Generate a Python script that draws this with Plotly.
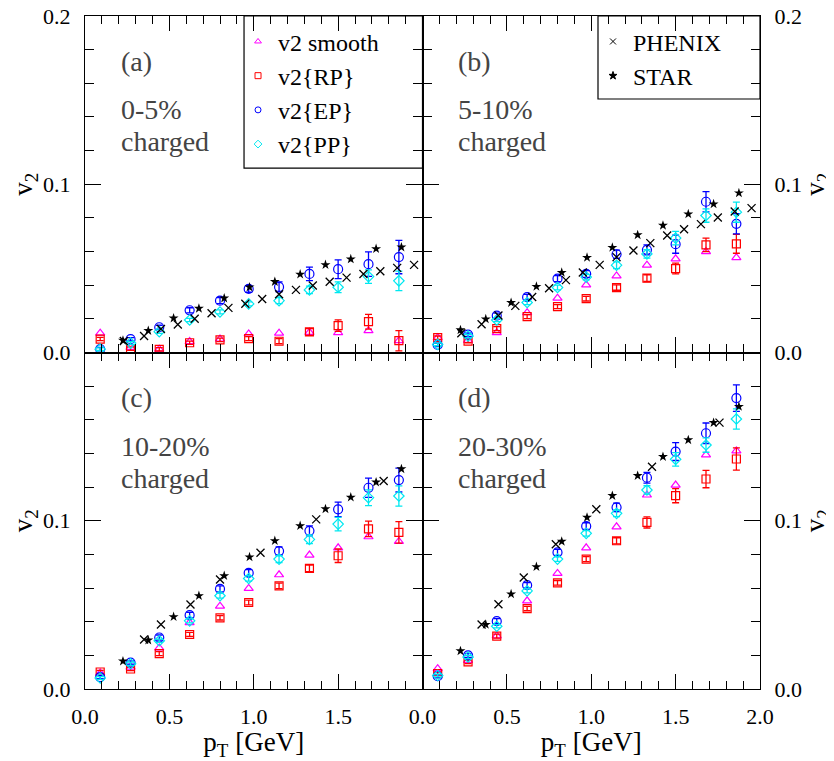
import plotly.graph_objects as go

# ---------------- data ----------------
PT = [0.09, 0.27, 0.44, 0.62, 0.80, 0.97, 1.15, 1.33, 1.50, 1.68, 1.86]
PHENIX_PT_AB = [0.23, 0.35, 0.45, 0.55, 0.65, 0.75, 0.85, 0.95, 1.05, 1.15,
                1.25, 1.35, 1.45, 1.55, 1.65, 1.75, 1.85, 1.95]
PHENIX_PT_C = [0.35, 0.45, 0.625, 0.80, 1.04, 1.37, 1.77]
PHENIX_PT_D = [0.35, 0.45, 0.60, 0.79, 1.03, 1.36, 1.76]
STAR_PT = [0.225, 0.375, 0.525, 0.675, 0.825, 0.975, 1.125, 1.275, 1.425,
           1.575, 1.725, 1.875]

# panel (a) 0-5%
a_smooth = [0.0115, 0.003, 0.002, 0.0065, 0.008, 0.011, 0.0115, 0.012, 0.0118, 0.013, 0.007]
a_rp = [0.008, 0.0023, 0.0019, 0.0058, 0.0075, 0.0082, 0.0067, 0.0122, 0.016, 0.0183, 0.007]
a_rp_err = [0.001, 0.001, 0.001, 0.001, 0.001, 0.0012, 0.0015, 0.002, 0.0034, 0.0044, 0.006]
a_ep = [0.002, 0.0079, 0.015, 0.0251, 0.0308, 0.0378, 0.039, 0.0467, 0.0495, 0.0525, 0.0567]
a_ep_err = [0.001, 0.001, 0.0012, 0.0015, 0.0018, 0.002, 0.003, 0.004, 0.0056, 0.0073, 0.0099]
a_pp = [0.002, 0.0056, 0.0124, 0.0193, 0.0241, 0.0289, 0.0308, 0.0372, 0.0388, 0.0451, 0.0426]
a_pp_err = [0.0008, 0.0008, 0.001, 0.001, 0.0012, 0.0012, 0.0018, 0.0022, 0.0032, 0.004, 0.0058]
a_phenix = [0.0068, 0.0098, 0.014, 0.0166, 0.0201, 0.0233, 0.0265, 0.029, 0.0318, 0.0346,
            0.0372, 0.0398, 0.042, 0.0445, 0.0467, 0.0483, 0.0503, 0.0521]
a_star = [0.0072, 0.013, 0.0204, 0.0262, 0.0323, 0.0388, 0.0421, 0.0465, 0.0521, 0.0555, 0.0616, 0.0626]

# panel (b) 5-10%
b_smooth = [0.0088, 0.0072, 0.0118, 0.0237, 0.0323, 0.0402, 0.0455, 0.0519, 0.0557, 0.06, 0.0564]
b_rp = [0.0088, 0.0068, 0.0142, 0.0213, 0.0273, 0.032, 0.0386, 0.0442, 0.0499, 0.064, 0.0646]
b_rp_err = [0.001, 0.001, 0.0012, 0.0012, 0.0012, 0.0014, 0.0016, 0.002, 0.0032, 0.004, 0.0056]
b_ep = [0.0045, 0.0106, 0.0219, 0.0329, 0.0439, 0.0467, 0.0584, 0.061, 0.0644, 0.0896, 0.0765]
b_ep_err = [0.001, 0.001, 0.0015, 0.0016, 0.0018, 0.002, 0.0025, 0.003, 0.0054, 0.006, 0.006]
b_pp = [0.0048, 0.0098, 0.0193, 0.0297, 0.0386, 0.0448, 0.0519, 0.0586, 0.068, 0.0814, 0.0834]
b_pp_err = [0.0008, 0.001, 0.001, 0.0012, 0.0014, 0.0016, 0.002, 0.0025, 0.004, 0.004, 0.006]
b_phenix = [0.0114, 0.0168, 0.022, 0.0277, 0.033, 0.0382, 0.043, 0.0475, 0.0521, 0.0567,
            0.0606, 0.065, 0.0695, 0.0733, 0.0763, 0.0802, 0.0838, 0.0858]
b_star = [0.0134, 0.0199, 0.0296, 0.0392, 0.0475, 0.0564, 0.0624, 0.0699, 0.0755, 0.0823, 0.0882, 0.0948]

# panel (c) 10-20%
c_smooth = [0.0095, 0.013, 0.0244, 0.0395, 0.0492, 0.0598, 0.0679, 0.0796, 0.0839, 0.0905, 0.0877]
c_rp = [0.0101, 0.0119, 0.021, 0.0324, 0.0423, 0.0514, 0.0613, 0.0717, 0.0792, 0.0952, 0.0931]
c_rp_err = [0.001, 0.001, 0.0012, 0.0012, 0.0013, 0.0014, 0.0016, 0.002, 0.004, 0.0046, 0.0064]
c_ep = [0.0071, 0.0157, 0.0306, 0.0439, 0.0595, 0.069, 0.082, 0.094, 0.1068, 0.1196, 0.1242]
c_ep_err = [0.001, 0.001, 0.0015, 0.0016, 0.0018, 0.002, 0.0025, 0.003, 0.0043, 0.0057, 0.0071]
c_pp = [0.0065, 0.015, 0.0287, 0.0405, 0.0554, 0.0657, 0.0772, 0.0889, 0.098, 0.1137, 0.1147]
c_pp_err = [0.0008, 0.001, 0.001, 0.0012, 0.0014, 0.0016, 0.002, 0.0025, 0.004, 0.0047, 0.006]
c_phenix = [0.0294, 0.0383, 0.0502, 0.0651, 0.081, 0.1008, 0.1236]
c_star = [0.0165, 0.029, 0.0429, 0.0554, 0.0673, 0.0784, 0.0881, 0.097, 0.107, 0.1139, 0.1229, 0.1308]

# panel (d) 20-30%
d_smooth = [0.0121, 0.017, 0.0316, 0.0524, 0.0687, 0.0839, 0.0964, 0.1153, 0.1212, 0.1391, 0.1415]
d_rp = [0.0092, 0.0161, 0.0314, 0.0478, 0.0631, 0.0772, 0.0881, 0.099, 0.1149, 0.1248, 0.1367]
d_rp_err = [0.001, 0.001, 0.0012, 0.0013, 0.0014, 0.0015, 0.0018, 0.0033, 0.0042, 0.0052, 0.0066]
d_ep = [0.0076, 0.02, 0.0403, 0.0617, 0.0812, 0.0968, 0.108, 0.1256, 0.1411, 0.152, 0.1729]
d_ep_err = [0.001, 0.0012, 0.0015, 0.0016, 0.0018, 0.002, 0.0025, 0.0032, 0.0053, 0.0061, 0.0079]
d_pp = [0.008, 0.019, 0.0373, 0.0583, 0.0772, 0.0925, 0.1044, 0.1183, 0.1365, 0.145, 0.1605]
d_pp_err = [0.0008, 0.001, 0.001, 0.0012, 0.0014, 0.0016, 0.002, 0.0025, 0.004, 0.0043, 0.006]
d_phenix = [0.0383, 0.0504, 0.0663, 0.086, 0.1068, 0.1321, 0.1583]
d_star = [0.0226, 0.0383, 0.0564, 0.0726, 0.0877, 0.102, 0.1149, 0.1268, 0.1381, 0.148, 0.1583, 0.1679]

PANEL_LABELS = ["(a)", "(b)", "(c)", "(d)"]
CENT_LABELS = ["0-5%", "5-10%", "10-20%", "20-30%"]
SERIES_NAMES = ["v2 smooth", "v2{RP}", "v2{EP}", "v2{PP}"]
EXP_NAMES = ["PHENIX", "STAR"]
X_TICKS = [0.0, 0.5, 1.0, 1.5, 2.0]
X_TICKTEXT = ["0.0", "0.5", "1.0", "1.5", "2.0"]
Y_TICKS = [0.0, 0.1, 0.2]
Y_TICKTEXT = ["0.0", "0.1", "0.2"]

# ---------------- style ----------------
FONT = "Liberation Serif"
MAGENTA, RED, BLUE, CYAN = "#ff00ff", "#ff0000", "#0000ff", "#00e8f0"
GRAY = "#444444"

fig = go.Figure()

panels = [
    ("x", "y", a_smooth, a_rp, a_rp_err, a_ep, a_ep_err, a_pp, a_pp_err, PHENIX_PT_AB, a_phenix, a_star),
    ("x2", "y2", b_smooth, b_rp, b_rp_err, b_ep, b_ep_err, b_pp, b_pp_err, PHENIX_PT_AB, b_phenix, b_star),
    ("x3", "y3", c_smooth, c_rp, c_rp_err, c_ep, c_ep_err, c_pp, c_pp_err, PHENIX_PT_C, c_phenix, c_star),
    ("x4", "y4", d_smooth, d_rp, d_rp_err, d_ep, d_ep_err, d_pp, d_pp_err, PHENIX_PT_D, d_phenix, d_star),
]


def err(arr, color):
    return dict(type="data", array=arr, color=color, thickness=1.3, width=3.5, visible=True)


for (xa, ya, sm, rp, rpe, ep, epe, pp, ppe, phx, ph, st) in panels:
    fig.add_trace(go.Scatter(x=PT, y=sm, mode="markers", xaxis=xa, yaxis=ya, showlegend=False,
                             marker=dict(symbol="triangle-up-open", size=8, color=MAGENTA,
                                         line=dict(width=1.2, color=MAGENTA))))
    fig.add_trace(go.Scatter(x=PT, y=rp, mode="markers", xaxis=xa, yaxis=ya, showlegend=False,
                             error_y=err(rpe, RED),
                             marker=dict(symbol="square-open", size=8, color=RED,
                                         line=dict(width=1.2, color=RED))))
    fig.add_trace(go.Scatter(x=PT, y=ep, mode="markers", xaxis=xa, yaxis=ya, showlegend=False,
                             error_y=err(epe, BLUE),
                             marker=dict(symbol="circle-open", size=9, color=BLUE,
                                         line=dict(width=1.2, color=BLUE))))
    fig.add_trace(go.Scatter(x=PT, y=pp, mode="markers", xaxis=xa, yaxis=ya, showlegend=False,
                             error_y=err(ppe, CYAN),
                             marker=dict(symbol="diamond-open", size=8, color=CYAN,
                                         line=dict(width=1.2, color=CYAN))))
    fig.add_trace(go.Scatter(x=phx, y=ph, mode="markers", xaxis=xa, yaxis=ya, showlegend=False,
                             marker=dict(symbol="x-thin-open", size=8, color="black",
                                         line=dict(width=1.3, color="black"))))
    fig.add_trace(go.Scatter(x=STAR_PT, y=st, mode="markers", xaxis=xa, yaxis=ya, showlegend=False,
                             marker=dict(symbol="star", size=7.5, color="black",
                                         line=dict(width=0))))

# legend-only entries
leg_styles = [("triangle-up-open", MAGENTA), ("square-open", RED), ("circle-open", BLUE), ("diamond-open", CYAN)]
for name, (sym, col) in zip(SERIES_NAMES, leg_styles):
    fig.add_trace(go.Scatter(x=[None], y=[None], mode="markers", name=name, legend="legend",
                             xaxis="x", yaxis="y",
                             marker=dict(symbol=sym, size=6, color=col, line=dict(width=1, color=col))))
for name, sym in zip(EXP_NAMES, ["x-thin-open", "star"]):
    fig.add_trace(go.Scatter(x=[None], y=[None], mode="markers", name=name, legend="legend2",
                             xaxis="x2", yaxis="y2",
                             marker=dict(symbol=sym, size=6, color="black", line=dict(width=1, color="black"))))

# annotations
ann = []
for lab, cent, (xa, ya) in zip(PANEL_LABELS, CENT_LABELS, [("x", "y"), ("x2", "y2"), ("x3", "y3"), ("x4", "y4")]):
    for txt, yv in [(lab, 0.173), (cent, 0.1443), ("charged", 0.1252)]:
        ann.append(dict(x=0.2, y=yv, xref=xa, yref=ya, text=txt, showarrow=False,
                        xanchor="left", yanchor="middle",
                        font=dict(family=FONT, size=28, color=GRAY)))

# legend frames (box outlines)
shapes = [
    dict(type="rect", xref="paper", yref="paper", x0=0.2356, x1=0.5, y0=0.7741, y1=1.0,
         line=dict(color="black", width=1.2), fillcolor="rgba(0,0,0,0)", layer="above"),
    dict(type="rect", xref="paper", yref="paper", x0=0.76, x1=1.0, y0=0.8767, y1=1.0,
         line=dict(color="black", width=1.2), fillcolor="rgba(0,0,0,0)", layer="above"),
]

tickfont = dict(family=FONT, size=22, color="black")
titlefont = dict(family=FONT, size=27, color="black")
minor_x = dict(ticks="inside", ticklen=8, dtick=0.1, tick0=0, tickwidth=1.2, tickcolor="black")
minor_y = dict(ticks="inside", ticklen=9, dtick=0.02, tick0=0, tickwidth=1.2, tickcolor="black")


def xaxis(domain, anchor, nlab):
    show = nlab > 0
    d = dict(domain=domain, anchor=anchor, range=[0, 2], showline=True, linecolor="black",
             linewidth=1.3, mirror="allticks", ticks="inside", ticklen=15, tickwidth=1.2,
             tickcolor="black", showticklabels=show, tickfont=tickfont, ticklabelstandoff=7,
             ticklabeloverflow="allow",
             minor=minor_x, showgrid=False, zeroline=False, automargin=False)
    if show:
        d.update(tickvals=X_TICKS[:nlab], ticktext=X_TICKTEXT[:nlab],
                 title=dict(text="p<sub>T</sub> [GeV]", font=titlefont, standoff=6))
    else:
        d.update(tickvals=X_TICKS)
    return d


def yaxis(domain, anchor, nlab, side):
    return dict(domain=domain, anchor=anchor, range=[0, 0.2], side=side, showline=True,
                linecolor="black", linewidth=1.3, mirror="allticks", ticks="inside", ticklen=16,
                tickwidth=1.2, tickcolor="black", tickvals=Y_TICKS[:nlab], ticktext=Y_TICKTEXT[:nlab],
                tickfont=tickfont, ticklabelstandoff=9, ticklabeloverflow="allow", minor=minor_y,
                showgrid=False, zeroline=False, automargin=False,
                title=dict(text="v<sub>2</sub>", font=titlefont,
                           standoff=16 if side == "left" else 6))


legfont = dict(family=FONT, size=24, color="black")
fig.update_layout(
    width=826, height=753,
    margin=dict(l=77, r=74, t=8, b=72),
    paper_bgcolor="white", plot_bgcolor="white",
    font=dict(family=FONT, color="black"),
    xaxis=xaxis([0, 0.5], "y", 0),
    yaxis=yaxis([0.5, 1], "x", 3, "left"),
    xaxis2=xaxis([0.5, 1], "y2", 0),
    yaxis2=yaxis([0.5, 1], "x2", 3, "right"),
    xaxis3=xaxis([0, 0.5], "y3", 4),
    yaxis3=yaxis([0, 0.5], "x3", 2, "left"),
    xaxis4=xaxis([0.5, 1], "y4", 5),
    yaxis4=yaxis([0, 0.5], "x4", 2, "right"),
    legend=dict(x=0.2267, xanchor="left", y=0.995, yanchor="top", bgcolor="rgba(0,0,0,0)",
                borderwidth=0, font=legfont, tracegroupgap=0, itemsizing="trace"),
    legend2=dict(x=0.7526, xanchor="left", y=0.995, yanchor="top", bgcolor="rgba(0,0,0,0)",
                 borderwidth=0, font=legfont, tracegroupgap=0, itemsizing="trace"),
    annotations=ann,
    shapes=shapes,
)

fig.write_html("out.html")
